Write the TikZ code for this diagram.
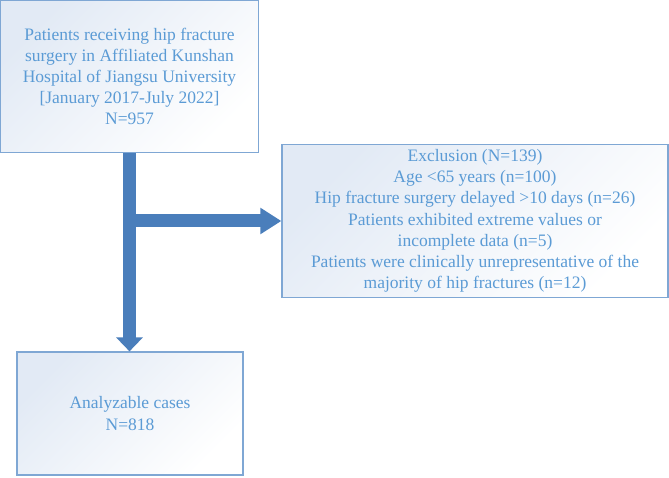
\documentclass[tikz,border=0pt]{standalone}
\usepackage{fontspec}
\setmainfont{Liberation Serif}
\usepackage{tikz}
\usetikzlibrary{arrows.meta,positioning}
\definecolor{flowText}{RGB}{91,155,213}
\definecolor{flowEdge}{RGB}{127,167,212}
\definecolor{flowShade}{RGB}{226,234,245}
\definecolor{flowArrow}{RGB}{74,126,187}
\tikzset{
  fbox/.style={draw=flowEdge,line width=1.2pt,top color=flowShade,bottom color=white,
               shading angle=45,font=\fontsize{17.5}{21.2}\selectfont,text=flowText,
               align=center,inner sep=0pt},
  bigarr/.style={flowArrow,line width=13pt},
}

\begin{document}
\begin{tikzpicture}[x=1pt,y=1pt]
  \useasboundingbox (0,0) rectangle (669,477);
  %% -- Boxes ---------------------------------------------------------------
  \node[fbox,minimum width=258pt,minimum height=152pt] (cohort) at (129.5,400.5)
    {Patients receiving hip fracture\\surgery in Affiliated Kunshan\\Hospital of Jiangsu University\\{[January 2017-July 2022]}\\N=957};
  \node[fbox,minimum width=386pt,minimum height=153pt] (excl) at (475,256)
    {Exclusion (N=139)\\Age <65 years (n=100)\\Hip fracture surgery delayed >10 days (n=26)\\
     Patients exhibited extreme values or\\incomplete data (n=5)\\
     Patients were clinically unrepresentative of the\\majority of hip fractures (n=12)};
  \node[fbox,minimum width=226pt,minimum height=123pt] (cases) at (130,63.5)
    {Analyzable cases\\N=818};

  %% -- Arrows --------------------------------------------------------------
  \coordinate (split) at (cohort.south |- excl.west);
  \draw[bigarr,-{Triangle[width=26pt,length=14pt]}] (cohort.south) -- (cohort.south |- cases.north);
  \draw[bigarr,-{Triangle[width=25pt,length=21pt]}] (split) -- (excl.west);
\end{tikzpicture}
\end{document}
